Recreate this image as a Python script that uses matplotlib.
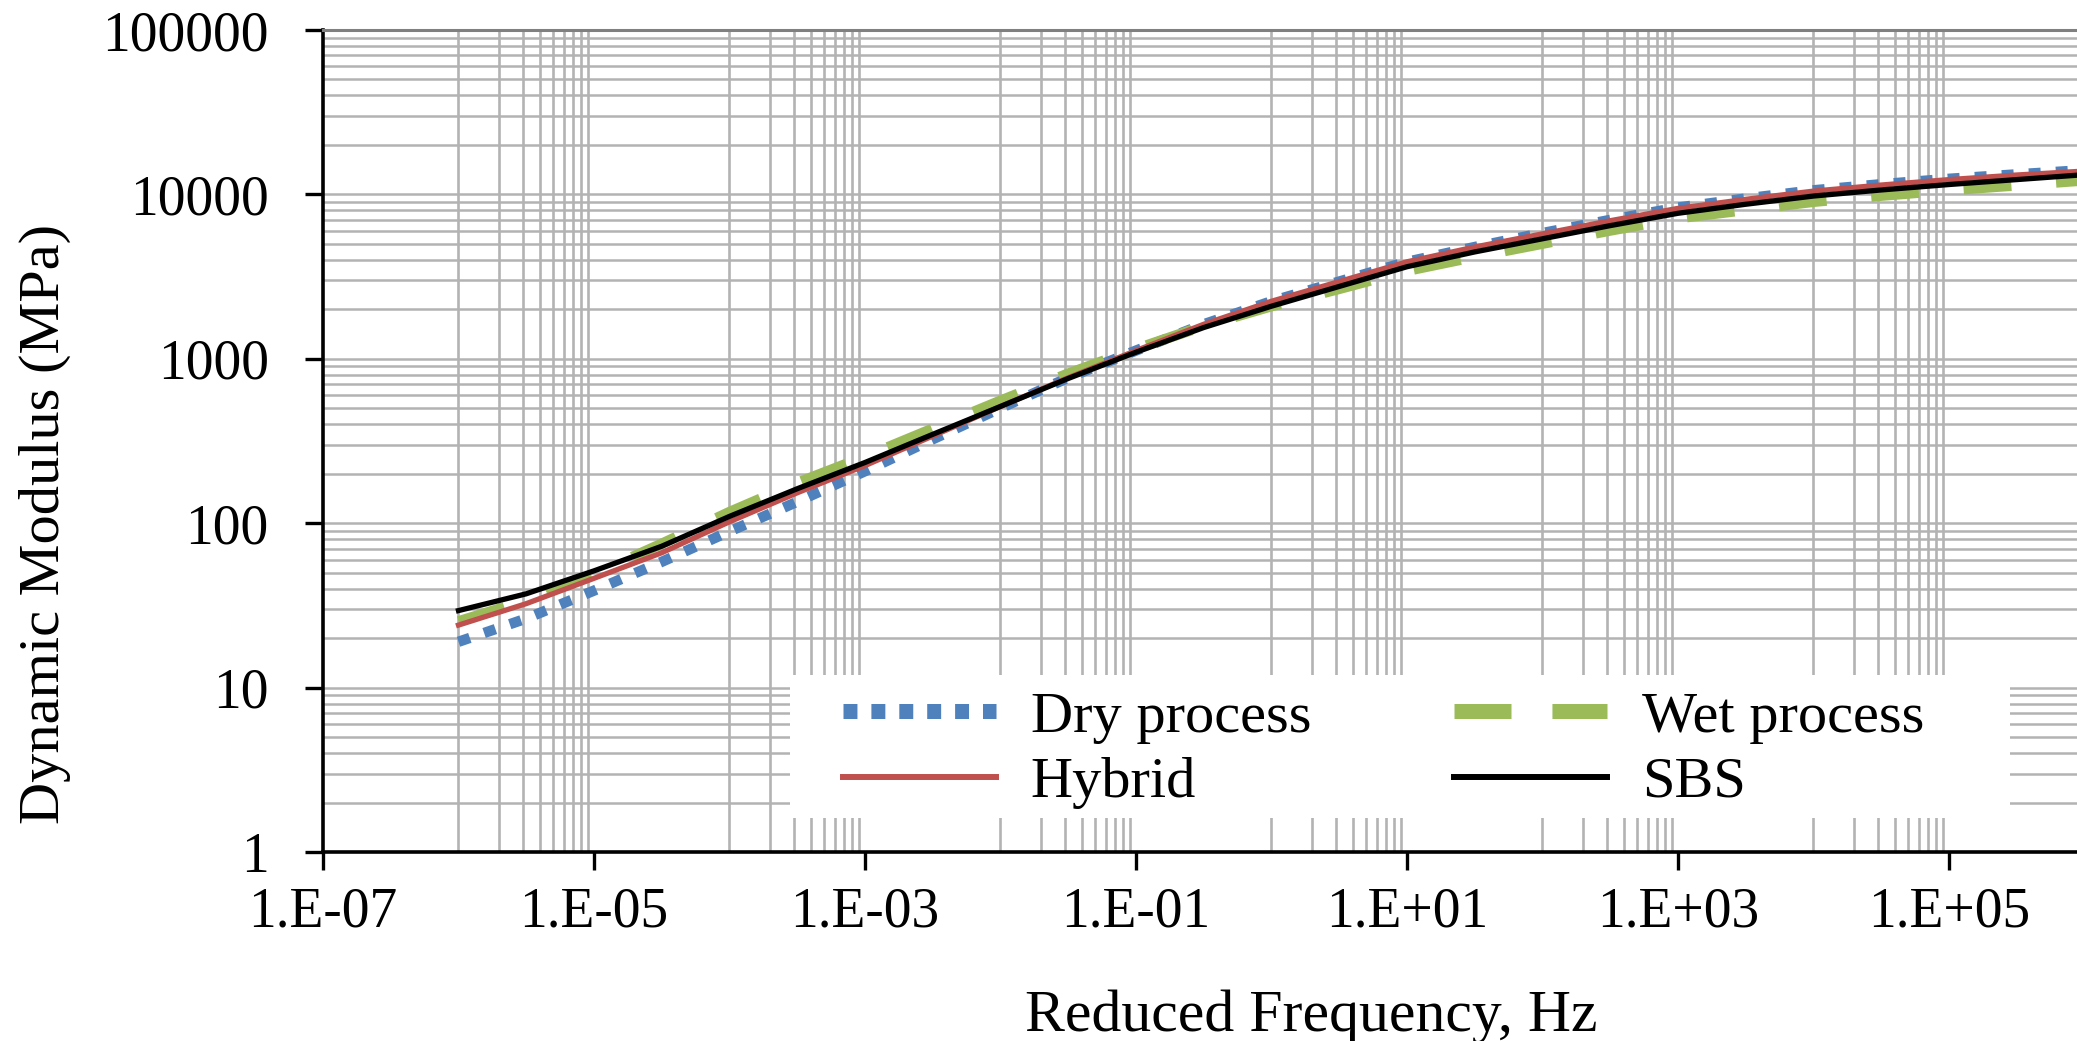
import math
import matplotlib
matplotlib.use("Agg")
import matplotlib.pyplot as plt
from matplotlib.ticker import FixedLocator, FuncFormatter, LogLocator, NullFormatter
from matplotlib.lines import Line2D
from matplotlib.patches import Rectangle

plt.rcParams['font.family'] = ['Liberation Serif', 'DejaVu Serif']

# ---------------- data ----------------
freq = [1e-6, 3.16e-6, 1e-5, 3.16e-5, 1e-4, 3.16e-4, 1e-3, 3.16e-3, 1e-2, 3.16e-2,
        1e-1, 3.16e-1, 1e0, 3.16e0, 1e1, 3.16e1, 1e2, 3.16e2, 1e3, 3.16e3,
        1e4, 3.16e4, 1e5, 3.16e5, 1e6]

dry = [19.0, 26.3, 38.9, 58.2, 89.1, 135, 207, 324, 501, 767,
       1122, 1622, 2239, 2951, 3890, 4786, 5821, 6998, 8318, 9441,
       10593, 11535, 12445, 13243, 14060]
wet = [25.3, 33.9, 49.0, 75.0, 117, 176, 254, 376, 556, 813,
       1148, 1585, 2089, 2661, 3428, 4169, 5012, 6026, 7161, 8035,
       9016, 9817, 10593, 11350, 12162]
hybrid = [24.0, 32.4, 46.2, 66.1, 102, 153, 224, 339, 513, 767,
          1122, 1622, 2239, 2951, 3890, 4786, 5754, 6918, 8222, 9333,
          10471, 11402, 12303, 13122, 13868]
sbs = [29.4, 37.2, 51.3, 72.4, 110, 162, 234, 347, 513, 759,
       1096, 1549, 2089, 2754, 3631, 4467, 5370, 6457, 7674, 8710,
       9772, 10641, 11482, 12303, 13183]

series_names = ["Dry process", "Wet process", "Hybrid", "SBS"]
x_major_ticks = [1e-7, 1e-5, 1e-3, 1e-1, 1e1, 1e3, 1e5, 1e7]
x_grid_decades = [1e-6, 1e-4, 1e-2, 1e0, 1e2, 1e4]
y_ticks = [1, 10, 100, 1000, 10000, 100000]

# ---------------- figure ----------------
W, H = 2077, 1041
fig = plt.figure(figsize=(W / 100, H / 100), dpi=100)
ax = fig.add_axes([323 / W, 1 - 852 / H, (W - 323) / W, (852 - 30) / H])

ax.set_xscale('log')
ax.set_yscale('log')
ax.set_xlim(1e-7, 10 ** 5.945)
ax.set_ylim(1, 100000)

blue = '#4F81BD'
green = '#9BBB59'
red = '#C0504D'

ax.plot(freq, dry, color=blue, lw=7.5, ls=(0, (1.15, 1.45)),
        dash_capstyle='butt', zorder=3)
ax.plot(freq, wet, color=green, lw=7.5, ls=(0, (4.6, 4.3)),
        dash_capstyle='butt', zorder=3)
ax.plot(freq, hybrid, color=red, lw=3.8, zorder=4)
ax.plot(freq, sbs, color='black', lw=3.8, zorder=5)

# grid
minor_x = [k * d for d in x_grid_decades for k in range(1, 10)]
ax.xaxis.set_major_locator(FixedLocator(x_major_ticks))
ax.xaxis.set_minor_locator(FixedLocator(minor_x))
ax.xaxis.set_major_formatter(FuncFormatter(
    lambda v, p: "1.E%+03d" % round(math.log10(v))))
ax.xaxis.set_minor_formatter(NullFormatter())

ax.yaxis.set_major_locator(FixedLocator(y_ticks))
ax.yaxis.set_minor_locator(LogLocator(base=10, subs=range(2, 10), numticks=20))
ax.yaxis.set_major_formatter(FuncFormatter(lambda v, p: "%d" % v))
ax.yaxis.set_minor_formatter(NullFormatter())

gcol = '#B3B3B3'
ax.grid(False)
ax.grid(True, which='minor', axis='x', color=gcol, lw=1.9, zorder=1)
ax.grid(True, which='both', axis='y', color=gcol, lw=1.8, zorder=1)
ax.set_axisbelow(True)

ax.tick_params(which='minor', length=0)
ax.tick_params(axis='both', which='major', direction='out', length=13,
               width=2.4, color='black', labelsize=40, labelcolor='black')
ax.tick_params(axis='y', which='major', pad=26)
ax.tick_params(axis='x', which='major', pad=12)

for s in ['left', 'bottom']:
    ax.spines[s].set_linewidth(2.6)
    ax.spines[s].set_color('black')
ax.spines['top'].set_color('#808080')
ax.spines['top'].set_linewidth(2.2)
ax.spines['right'].set_visible(False)

ax.set_xlabel("Reduced Frequency, Hz", fontsize=43, va='center')
ax.xaxis.set_label_coords(0.5633, -0.2007)
ax.set_ylabel("Dynamic Modulus (MPa)", fontsize=42, va='center', ha='center')
ax.yaxis.set_label_coords(-0.1585, 0.399)

# legend background
ax.add_patch(Rectangle((0.2662, 0.0414), 0.9618 - 0.2662, 0.2153 - 0.0414,
                       transform=ax.transAxes, facecolor='white',
                       edgecolor='none', zorder=2))

handles = [
    Line2D([], [], color=blue, lw=10.8, ls=(0, (0.93, 0.93)), dash_capstyle='butt'),
    Line2D([], [], color=red, lw=4.3),
    Line2D([], [], color=green, lw=10.8, ls=(0, (3.8, 2.73)), dash_capstyle='butt'),
    Line2D([], [], color='black', lw=4.3),
]
labels = [series_names[0], series_names[2], series_names[1], series_names[3]]
leg = ax.legend(handles, labels, ncol=2, loc='upper left',
                bbox_to_anchor=(843 / W, 1 - 691 / H),
                bbox_transform=fig.transFigure, frameon=False,
                fontsize=42, borderpad=0, borderaxespad=0,
                handlelength=2.62, handletextpad=0.6, columnspacing=2.45,
                labelspacing=0.21)
leg.set_zorder(6)

fig.savefig("out.png", dpi=100)
